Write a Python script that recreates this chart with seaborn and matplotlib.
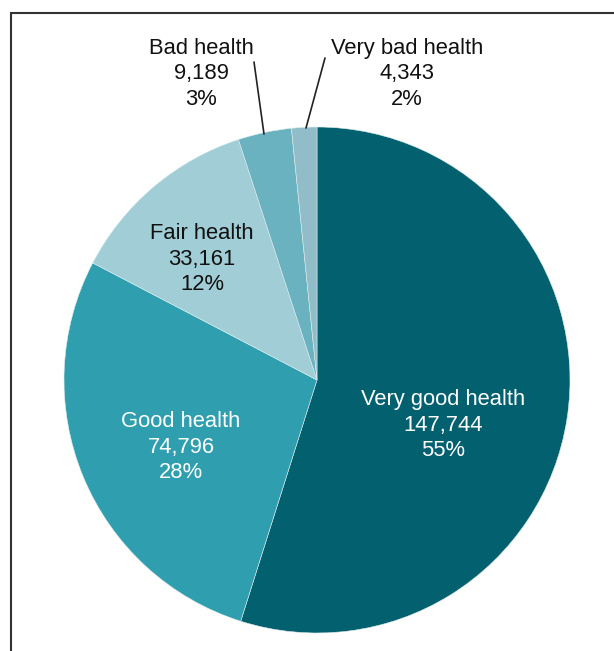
import matplotlib
matplotlib.use("Agg")
import matplotlib.pyplot as plt
import seaborn as sns

categories = ["Very good health", "Good health", "Fair health", "Bad health", "Very bad health"]
counts = [147744, 74796, 33161, 9189, 4343]
percent_labels = ["55%", "28%", "12%", "3%", "2%"]
count_labels = ["147,744", "74,796", "33,161", "9,189", "4,343"]
colors = ["#03606F", "#2F9EAE", "#A1CDD6", "#6AB2C0", "#90BDC8"]
text_colors = ["white", "white", "#111111", "#111111", "#111111"]

sns.set_theme(style="white")
plt.rcParams["font.family"] = ["Liberation Sans", "DejaVu Sans"]

W, H = 614, 651
fig = plt.figure(figsize=(W / 100, H / 100), dpi=100)
ax = fig.add_axes([0, 0, 1, 1])

cx, cy, r = 317, H - 380, 253
ax.pie(counts, colors=colors, startangle=90, counterclock=False,
       center=(cx, cy), radius=r, frame=False,
       wedgeprops=dict(linewidth=0.4, edgecolor="#dcecef"))
ax.set_xlim(0, W)
ax.set_ylim(0, H)
ax.set_aspect("equal")
ax.axis("off")

# label positions (pixel coords, top-origin): center x, middle-line y
label_pos = [(443, 425), (181, 447), (202, 259), (201, 74), (407, 74)]
for i, (lx, ly) in enumerate(label_pos):
    txt = f"{categories[i]}\n{count_labels[i]}\n{percent_labels[i]}"
    ax.text(lx, H - ly, txt, ha="center", va="center", fontsize=15.8,
            color=text_colors[i], linespacing=1.3)

# leader lines
ax.plot([254, 264], [H - 62, H - 134], color="#222222", lw=1.2)
ax.plot([325, 306], [H - 58, H - 128], color="#222222", lw=1.2)

# frame lines (left and top)
ax.plot([10.5, 10.5], [0, H - 13], color="#333333", lw=1.5, clip_on=False)
ax.plot([10.5, W], [H - 13, H - 13], color="#333333", lw=1.5, clip_on=False)

fig.savefig("out.png", dpi=100)
